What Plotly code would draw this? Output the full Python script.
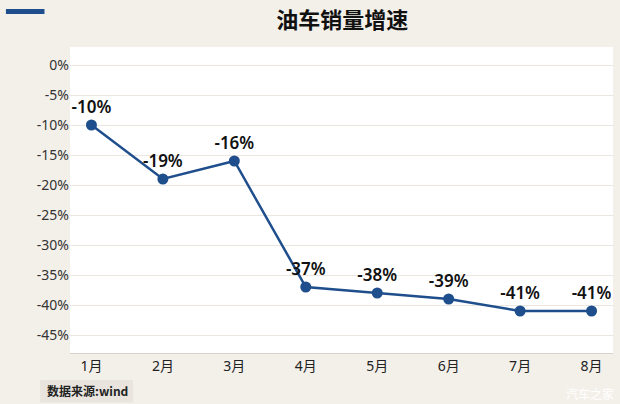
import plotly.graph_objects as go

months = ['1月', '2月', '3月', '4月', '5月', '6月', '7月', '8月']
growth = [-10, -19, -16, -37, -38, -39, -41, -41]
y_ticks = [0, -5, -10, -15, -20, -25, -30, -35, -40, -45]
y_tick_text = [f'{v}%' for v in y_ticks]

blue = '#1f4e8c'
font = 'Noto Sans CJK SC'
num_font = 'Noto Sans, Noto Sans CJK SC'

trace = go.Scatter(
    x=months, y=growth, mode='lines+markers+text',
    line=dict(color=blue, width=2.5),
    marker=dict(color=blue, size=11),
    text=[f'{v}%' for v in growth], textposition='top center',
    textfont=dict(family=num_font, size=17, color='#111111', weight=600),
    cliponaxis=False, hoverinfo='skip',
)

layout = go.Layout(
    width=620, height=404,
    paper_bgcolor='#f3f0ea', plot_bgcolor='#ffffff',
    margin=dict(l=70, r=7, t=47, b=51),
    showlegend=False,
    font=dict(family=font, size=12, color='#333333'),
    title=dict(text='<b>油车销量增速</b>', x=0.552, xanchor='center', y=0.95, yanchor='middle',
               font=dict(family=font, size=22, color='#111111')),
    xaxis=dict(range=[-0.3, 7.3], showgrid=False, showline=True, linecolor='#d6d2cc', linewidth=1,
               ticks='', tickfont=dict(family=num_font, size=14, color='#222222')),
    yaxis=dict(range=[-48, 3], tickvals=y_ticks, ticktext=y_tick_text, gridcolor='#ebe6df',
               zeroline=False, ticks='', tickfont=dict(family=num_font, size=14, color='#333333')),
    shapes=[
        dict(type='rect', xref='paper', yref='paper', x0=-0.118, x1=-0.047, y0=1.108, y1=1.124,
             fillcolor=blue, line=dict(width=0), layer='above'),
        dict(type='rect', xref='paper', yref='paper', x0=-0.055, x1=0.116, y0=-0.088, y1=-0.162,
             fillcolor='#e9e5de', line=dict(width=0)),
    ],
    annotations=[
        dict(text='<b>数据来源:wind</b>', xref='paper', yref='paper', x=-0.046, y=-0.124,
             xanchor='left', yanchor='middle', showarrow=False,
             font=dict(family=font, size=12, color='#222222')),
        dict(text='汽车之家', xref='paper', yref='paper', x=1.005, y=-0.131,
             xanchor='right', yanchor='middle', showarrow=False,
             font=dict(family=font, size=12, color='#ffffff')),
    ],
)

fig = go.Figure(data=[trace], layout=layout)
fig.write_html('out.html', config={'displayModeBar': False},
               post_script="document.body.style.margin='0';")
